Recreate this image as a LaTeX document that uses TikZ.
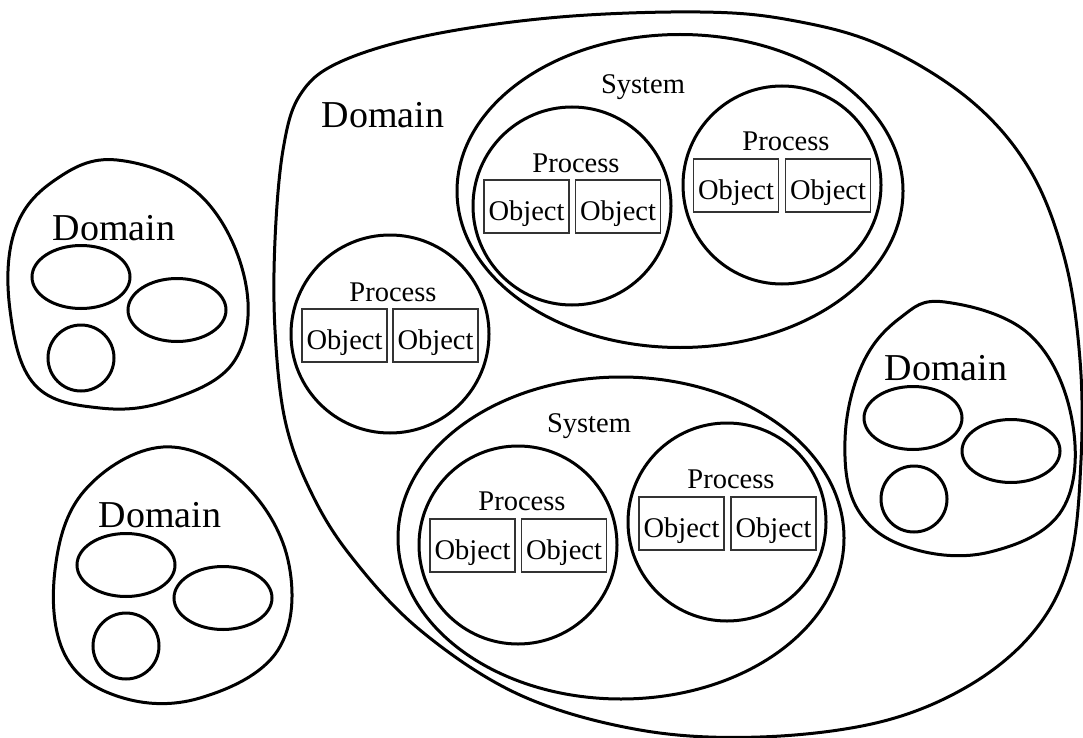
\documentclass[tikz,border=0pt]{standalone}
\usepackage{fontspec}
\setmainfont{Liberation Serif}
\usetikzlibrary{shapes.geometric}
\begin{document}
\begin{tikzpicture}[x=1pt,y=-1pt,
 outl/.style={draw=black,line width=3pt},
 proc/.style={outl,circle,minimum size=198pt,inner sep=0pt},
 sys/.style={outl,ellipse,inner sep=0pt},
 obj/.style={draw=black!80,line width=1.4pt,minimum width=85pt,minimum height=53pt,inner sep=0pt,text height=28pt,text depth=0pt,font=\fontsize{28.5}{30}\selectfont},
 lbl/.style={anchor=base,inner sep=0pt,font=\fontsize{28.5}{30}\selectfont},
 dlbl/.style={anchor=base,inner sep=0pt,font=\fontsize{38}{40}\selectfont},
 sm/.style={outl,ellipse,minimum width=98pt,minimum height=63pt,inner sep=0pt},
 smc/.style={outl,circle,minimum size=66pt,inner sep=0pt}]
\useasboundingbox (0,0) rectangle (1083,738);

% big domain
\draw[outl] plot[smooth cycle, tension=0.6] coordinates {
 (700,12) (560,17) (430,35) (340,62) (300,95) (283,150) (275,240) (275,330)
 (285,420) (310,490) (350,555) (420,630) (520,695) (640,730) (760,737)
 (880,722) (970,685) (1035,630) (1070,560) (1081,460) (1080,360) (1065,260)
 (1030,170) (970,100) (880,45) (790,20)};
\node[dlbl] (dbig) at (383,128) {Domain};

% upper system
\node[sys,minimum width=446pt,minimum height=313pt] (sysA) at (680,191) {};
\node[lbl] (sysAl) at (643,94) {System};
\node[proc] (pA1) at (572,206) {};
\node[lbl] (pA1l) at (576,172) {Process};
\node[obj] (oA1a) at (526.5,206.5) {Object};
\node[obj] (oA1b) at (618,206.5) {Object};
\node[proc] (pA2) at (782,185) {};
\node[lbl] (pA2l) at (786,151) {Process};
\node[obj] (oA2a) at (736,185.5) {Object};
\node[obj] (oA2b) at (828,185.5) {Object};

% lone process
\node[proc] (pL) at (390,334) {};
\node[lbl] (pLl) at (393,301) {Process};
\node[obj] (oLa) at (344.5,335.5) {Object};
\node[obj] (oLb) at (435.5,335.5) {Object};

% lower system
\node[sys,minimum width=446pt,minimum height=322pt] (sysB) at (621,538) {};
\node[lbl] (sysBl) at (589,432) {System};
\node[proc] (pB1) at (518,545) {};
\node[lbl] (pB1l) at (522,510) {Process};
\node[obj] (oB1a) at (472.5,545.5) {Object};
\node[obj] (oB1b) at (564,545.5) {Object};
\node[proc] (pB2) at (727,522) {};
\node[lbl] (pB2l) at (731,488) {Process};
\node[obj] (oB2a) at (681.5,523.5) {Object};
\node[obj] (oB2b) at (773.5,523.5) {Object};

% small domain upper left
\draw[outl] plot[smooth cycle, tension=0.65] coordinates {
 (117,160) (200,195) (245,280) (235,360) (170,400) (100,408) (35,385)
 (10,310) (15,230) (55,180)};
\node[dlbl] (d1l) at (114,240) {Domain};
\node[sm] (d1e1) at (81,277) {};
\node[sm] (d1e2) at (177,310) {};
\node[smc] (d1c) at (81,358) {};

% small domain lower left
\draw[outl] plot[smooth cycle, tension=0.65] coordinates {
 (163,447) (240,480) (288,560) (278,650) (200,698) (120,697) (65,655)
 (55,570) (85,490)};
\node[dlbl] (d2l) at (160,527) {Domain};
\node[sm] (d2e1) at (126,565) {};
\node[sm] (d2e2) at (223,598) {};
\node[smc] (d2c) at (126,646) {};

% small domain right
\draw[outl] plot[smooth cycle, tension=0.65] coordinates {
 (945,302) (1030,335) (1072,420) (1062,510) (990,552) (910,548) (858,510)
 (845,440) (862,365) (900,318)};
\node[dlbl] (d3l) at (946,380) {Domain};
\node[sm] (d3e1) at (913,418) {};
\node[sm] (d3e2) at (1011,451) {};
\node[smc] (d3c) at (914,499) {};
\end{tikzpicture}
\end{document}
